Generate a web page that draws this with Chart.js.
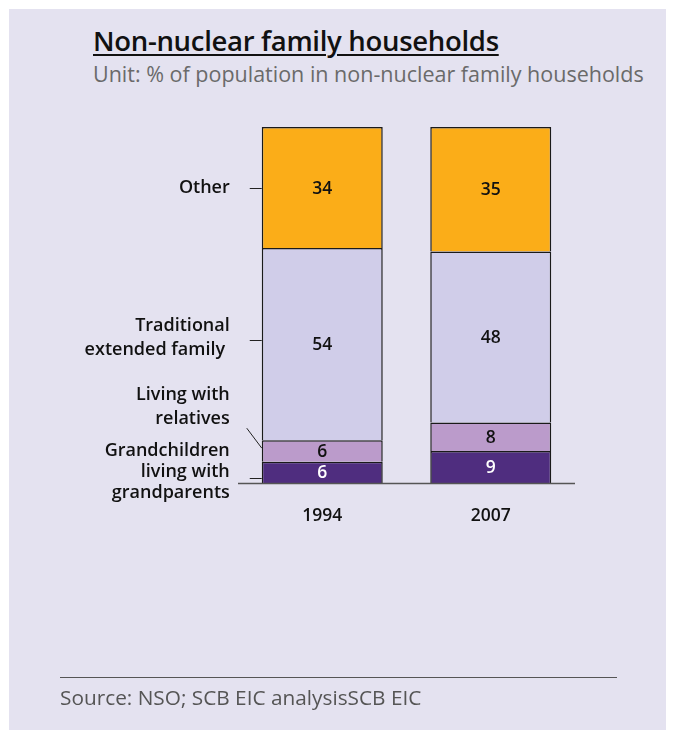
<!DOCTYPE html>
<html>
<head>
<meta charset="utf-8">
<script src="https://cdn.jsdelivr.net/npm/chart.js@4/dist/chart.umd.min.js"></script>
<style>
  html, body { margin: 0; padding: 0; background: #fff; }
  #wrap { position: relative; width: 674px; height: 733px; overflow: hidden; }
  #panel { position: absolute; left: 9px; top: 9px; width: 657px; height: 721px; background: #e4e2f0; }
  #chart { position: absolute; left: 0; top: 0; }
  .txt { position: absolute; font-family: "Open Sans", sans-serif; white-space: nowrap; }
  #title { left: 93px; top: 22px; font-size: 27.5px; font-weight: 600; color: #111; text-decoration: underline; text-decoration-thickness: 2px; text-underline-offset: 3px; letter-spacing: -0.3px; }
  #subtitle { left: 93px; top: 59px; font-size: 21.5px; color: #6a6a6a; }
  #rule { position: absolute; left: 60px; top: 677px; width: 557px; height: 1px; background: #555; }
  #source { left: 60px; top: 683px; font-size: 20.8px; color: #555; }
</style>
</head>
<body>
<div id="wrap">
  <div id="panel"></div>
  <div id="title" class="txt">Non-nuclear family households</div>
  <div id="subtitle" class="txt">Unit: % of population in non-nuclear family households</div>
  <canvas id="chart" width="674" height="733"></canvas>
  <div id="rule"></div>
  <div id="source" class="txt">Source: NSO; SCB EIC analysisSCB EIC</div>
</div>
<script>
// years on the x axis, one stacked bar each
const years = ['1994', '2007'];

// shares (%) stacked bottom to top
const grandchildren = [6, 9];
const relatives = [6, 8];
const traditional = [54, 48];
const other = [34, 35];

const seriesNames = ['Grandchildren living with grandparents', 'Living with relatives', 'Traditional extended family', 'Other'];
const seriesColors = ['#4f2d7f', '#bb9bcb', '#d0cde9', '#fbad18'];
const valueColors = ['#ffffff', '#111111', '#111111', '#111111'];

// left-hand series captions, anchored in y-axis units
const captions = [
  { lines: ['Other'], at: 83, lh: 22, tick: [83, 83] },
  { lines: ['Traditional', 'extended family '], at: 40.7, lh: 24, tick: [40.2, 40.2] },
  { lines: ['Living with', 'relatives'], at: 21.3, lh: 24, tick: [15.4, 9.8], slant: true },
  { lines: ['Grandchildren', 'living with', 'grandparents'], at: 3.1, lh: 21, tick: [1.4, 1.4] }
];

const FONT = '"Open Sans", sans-serif';

const labelPlugin = {
  id: 'stackLabels',
  afterDatasetsDraw(chart) {
    const ctx = chart.ctx;
    const y = chart.scales.y;
    const x = chart.scales.x;
    ctx.save();

    // values inside each segment
    ctx.font = '600 17.5px ' + FONT;
    ctx.textAlign = 'center';
    ctx.textBaseline = 'middle';
    chart.data.datasets.forEach((ds, i) => {
      const meta = chart.getDatasetMeta(i);
      meta.data.forEach((bar, j) => {
        const p = bar.getProps(['x', 'y', 'base'], true);
        ctx.fillStyle = valueColors[i];
        ctx.fillText(String(ds.data[j]), p.x, (p.y + p.base) / 2 + 1);
      });
    });

    // category labels under the baseline
    ctx.fillStyle = '#111';
    ctx.font = '600 17.5px ' + FONT;
    years.forEach((yr, j) => ctx.fillText(yr, x.getPixelForValue(j), y.bottom + 33));

    // captions with leader lines to the first bar
    const first = chart.getDatasetMeta(0).data[0].getProps(['x', 'width'], true);
    const left = first.x - first.width / 2;
    ctx.font = '600 18px ' + FONT;
    ctx.textAlign = 'right';
    ctx.strokeStyle = '#222';
    ctx.lineWidth = 1;
    captions.forEach(c => {
      const cy = y.getPixelForValue(c.at);
      const top = cy - (c.lines.length - 1) * c.lh / 2;
      c.lines.forEach((ln, k) => ctx.fillText(ln, left - 32, top + k * c.lh));
      ctx.beginPath();
      if (c.slant) {
        ctx.moveTo(left - 15, y.getPixelForValue(c.tick[0]));
        ctx.lineTo(left, y.getPixelForValue(c.tick[1]));
      } else {
        const ty = Math.round(y.getPixelForValue(c.tick[0])) + 0.5;
        ctx.moveTo(left - 12, ty);
        ctx.lineTo(left, ty);
      }
      ctx.stroke();
    });

    // baseline
    ctx.strokeStyle = '#555';
    ctx.lineWidth = 1.5;
    ctx.beginPath();
    ctx.moveTo(x.left, y.bottom + 0.5);
    ctx.lineTo(x.right, y.bottom + 0.5);
    ctx.stroke();
    ctx.restore();
  }
};

const stacks = [grandchildren, relatives, traditional, other];

new Chart(document.getElementById('chart'), {
  type: 'bar',
  data: {
    labels: years,
    datasets: stacks.map((vals, i) => ({
      label: seriesNames[i],
      data: vals,
      backgroundColor: seriesColors[i],
      borderColor: '#1a1a1a',
      borderWidth: { top: 1.5, left: 1.5, right: 1.5, bottom: 0 },
      borderSkipped: false,
      barPercentage: 0.718,
      categoryPercentage: 1
    }))
  },
  options: {
    responsive: false,
    animation: false,
    layout: { padding: { left: 238, right: 99, top: 127, bottom: 250 } },
    plugins: { legend: { display: false }, tooltip: { enabled: false }, title: { display: false } },
    scales: {
      x: { stacked: true, display: false, offset: true },
      y: { stacked: true, display: false, min: 0, max: 100 }
    }
  },
  plugins: [labelPlugin]
});
</script>
</body>
</html>
